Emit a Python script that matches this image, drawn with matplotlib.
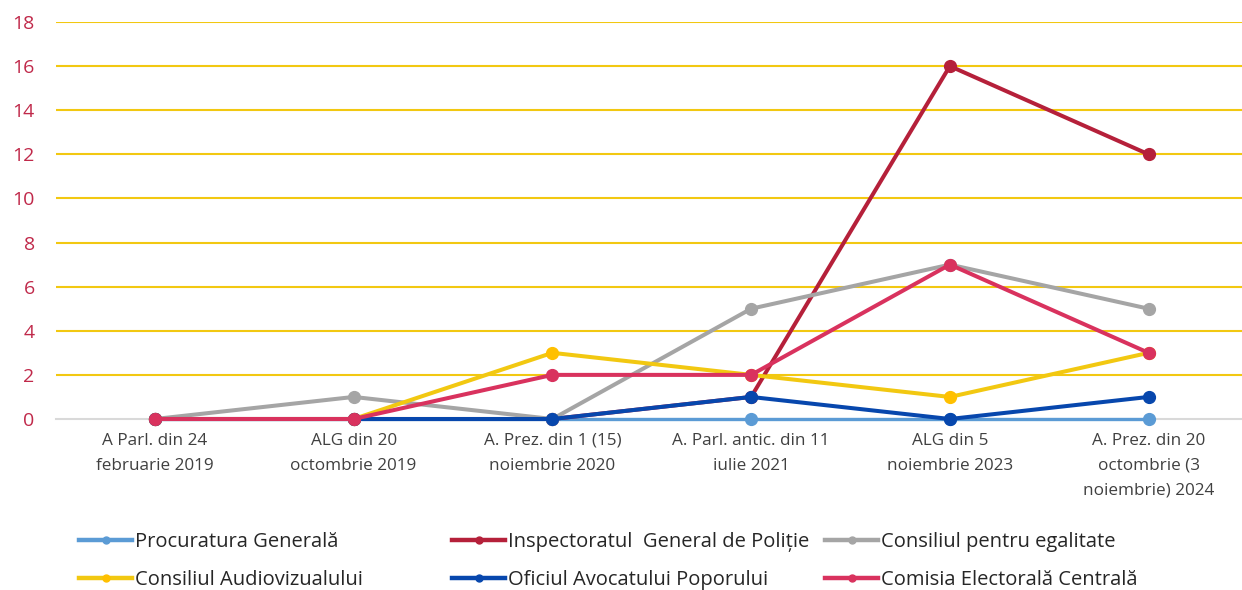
import matplotlib
matplotlib.use("Agg")
import matplotlib.pyplot as plt
from matplotlib.lines import Line2D

plt.rcParams['font.family'] = ['Open Sans', 'DejaVu Sans']

categories = [
    "A Parl. din 24\nfebruarie 2019",
    "ALG din 20\noctombrie 2019",
    "A. Prez. din 1 (15)\nnoiembrie 2020",
    "A. Parl. antic. din 11\niulie 2021",
    "ALG din 5\nnoiembrie 2023",
    "A. Prez. din 20\noctombrie (3\nnoiembrie) 2024",
]
series_names = [
    "Procuratura Generală",
    "Inspectoratul  General de Poliție",
    "Consiliul pentru egalitate",
    "Consiliul Audiovizualului",
    "Oficiul Avocatului Poporului",
    "Comisia Electorală Centrală",
]
procuratura = [0, 0, 0, 0, 0, 0]
inspectorat = [0, 0, 0, 1, 16, 12]
egalitate = [0, 1, 0, 5, 7, 5]
audiovizual = [0, 0, 3, 2, 1, 3]
oficiul = [0, 0, 0, 1, 0, 1]
comisia = [0, 0, 2, 2, 7, 3]
yticks = [0, 2, 4, 6, 8, 10, 12, 14, 16, 18]

values = [procuratura, inspectorat, egalitate, audiovizual, oficiul, comisia]
line_colors = ["#5B9BD5", "#B5203A", "#A5A5A5", "#F2C811", "#0747AD", "#D9325E"]
marker_colors = ["#5B9BD5", "#B5203A", "#A5A5A5", "#FFC000", "#0747AD", "#D9325E"]
lws = [2.4, 2.9, 2.9, 2.9, 2.9, 2.9]

W, H = 1242, 590
fig = plt.figure(figsize=(W / 100, H / 100), dpi=100)
left_px, right_px = 55.5, 1248
top_px, bot_px = 22, 419
ax = fig.add_axes([left_px / W, 1 - bot_px / H, (right_px - left_px) / W, (bot_px - top_px) / H])

x = list(range(len(categories)))
for i, (name, vals) in enumerate(zip(series_names, values)):
    ax.plot(x, vals, color=line_colors[i], lw=lws[i], marker='o', ms=8.5,
            markerfacecolor=marker_colors[i], markeredgecolor=marker_colors[i],
            solid_capstyle='round', zorder=3 + i, clip_on=False)

ax.set_xlim(-0.5, 5.5)
ax.set_ylim(0, 18)
ax.set_yticks(yticks)
ax.set_xticks(x)
ax.set_xticklabels(categories, fontsize=12.3, color="#404040", linespacing=1.72)
ax.tick_params(axis='y', length=0, pad=15, labelsize=14, labelcolor="#C0294A")
ax.tick_params(axis='x', length=0, pad=10)

for y in yticks[1:]:
    ax.axhline(y, color="#F2C811", lw=1.5, zorder=1)
for s in ['top', 'right', 'left']:
    ax.spines[s].set_visible(False)
ax.spines['bottom'].set_color("#D9D9D9")
ax.spines['bottom'].set_linewidth(1.5)
ax.spines['bottom'].set_zorder(1)

# legends: three equal-width columns
col_x = [79, 452, 825]
for c in range(3):
    handles = []
    labels = []
    for r in range(2):
        i = r * 3 + c
        handles.append(Line2D([0], [0], color=line_colors[i], lw=3.2, marker='o', ms=5,
                              markerfacecolor=marker_colors[i], markeredgecolor=marker_colors[i]))
        labels.append(series_names[i])
    leg = fig.legend(handles, labels, loc='upper left',
                     bbox_to_anchor=(col_x[c] / W, 1 - 532 / H),
                     frameon=False, fontsize=14.5, handlelength=2.65, handletextpad=0.15,
                     labelspacing=0.9, borderpad=0, borderaxespad=0)
    for t in leg.get_texts():
        t.set_color("#262626")

fig.savefig("out.png", dpi=100)
